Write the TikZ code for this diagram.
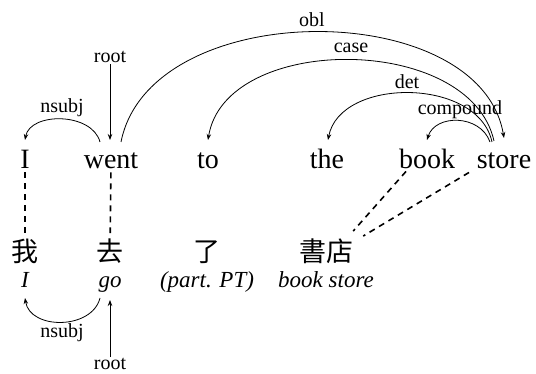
\documentclass[tikz,border=0pt]{standalone}
\usepackage{fontspec}
\setmainfont{Liberation Serif}
\newfontfamily\cjk{Noto Sans CJK TC}
\usetikzlibrary{arrows.meta,calc}
\tikzset{
  word/.style={anchor=base,inner sep=3pt,font=\fontsize{28}{30}\selectfont},
  zh/.style={anchor=base,inner sep=3pt,font=\cjk\fontsize{27}{29}\selectfont},
  gloss/.style={anchor=base,inner sep=2pt,font=\itshape\fontsize{23}{25}\selectfont},
  lab/.style={inner sep=1pt,font=\fontsize{20}{22}\selectfont},
  dep/.style={line width=0.8pt,-{Stealth[length=6pt,width=4.5pt]}},
  align/.style={line width=1.6pt,dash pattern=on 6pt off 5pt},
}
\begin{document}
\begin{tikzpicture}[x=1pt,y=1pt]
\useasboundingbox (0,0) rectangle (536,374);
% English words
\node[word] (eI) at (25,205) {I};
\node[word] (ewent) at (111,205) {went};
\node[word] (eto) at (208,205) {to};
\node[word] (ethe) at (327,205) {the};
\node[word] (ebook) at (427,205) {book};
\node[word] (estore) at (504,205) {store};
% Chinese
\node[zh] (cI) at (25,112) {我};
\node[zh] (cgo) at (110,112) {去};
\node[zh] (cle) at (207,112) {了};
\node[zh] (cbs) at (326,112) {書店};
% glosses
\node[gloss] (gI) at (25,86) {I};
\node[gloss] (ggo) at (110,86) {go};
\node[gloss] (gle) at (207,86) {(part. PT)};
\node[gloss] (gbs) at (326,86) {book store};
% labels
\node[lab] (lroot) at (110,317) {root};
\node[lab] (lnsubj) at (62,266) {nsubj};
\node[lab] (lobl) at (312,354) {obl};
\node[lab] (lcase) at (351,326) {case};
\node[lab] (ldet) at (407,292) {det};
\node[lab] (lcomp) at (460,264) {compound};
\node[lab] (bnsubj) at (62,41) {nsubj};
\node[lab] (broot) at (110,10) {root};
% top arcs
\draw[dep] (lroot.south) -- (110,234);
\draw[dep] (100,232) .. controls (92,262) and (30,262) .. (25,234);
\draw[dep] (121,232) .. controls (150,378) and (480,378) .. (504,236);
\draw[dep] (494,233) .. controls (470,341) and (225,341) .. (208,234);
\draw[dep] (492,232) .. controls (478,297) and (340,297) .. (328,234);
\draw[dep] (490,232) .. controls (480,260) and (435,260) .. (427,234);
% bottom arcs
\draw[dep] (100,76) .. controls (92,44) and (30,44) .. (25,76);
\draw[dep] (broot.north) -- (110,74);
% alignments
\draw[align,shorten >=3pt] (eI) -- (cI);
\draw[align,shorten >=3pt] (ewent) -- (cgo);
\draw[align] ($(ebook.south)+(-21,1)$) -- ($(cbs.north east)+(-3,5)$);
\draw[align] ($(estore.south)+(-35,0)$) -- ($(cbs.north east)+(7,0)$);
\end{tikzpicture}
\end{document}
